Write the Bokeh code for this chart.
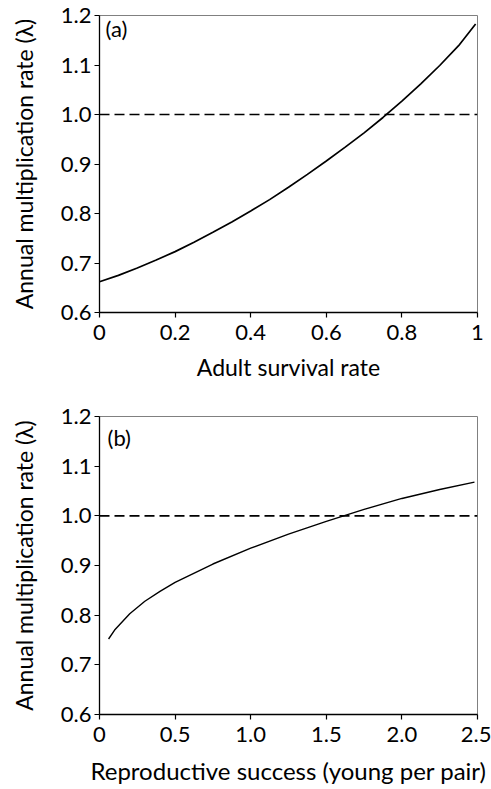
from bokeh.plotting import figure
from bokeh.layouts import column
from bokeh.models import Span, Label, FixedTicker
from bokeh.embed import file_html
from bokeh.resources import INLINE

# Panel (a): adult survival rate vs lambda
survival = [0.0, 0.05, 0.1, 0.15, 0.2, 0.25, 0.3, 0.35, 0.4, 0.45, 0.5,
            0.55, 0.6, 0.65, 0.7, 0.75, 0.8, 0.85, 0.9, 0.95, 0.995]
lambda_a = [0.662, 0.675, 0.690, 0.706, 0.723, 0.742, 0.762, 0.783, 0.805, 0.828, 0.853,
            0.879, 0.906, 0.934, 0.963, 0.994, 1.027, 1.062, 1.099, 1.139, 1.183]

# Panel (b): reproductive success vs lambda
success = [0.06, 0.1, 0.2, 0.3, 0.4, 0.5, 0.75, 1.0, 1.25, 1.5, 1.75, 2.0, 2.25, 2.48]
lambda_b = [0.752, 0.770, 0.803, 0.828, 0.848, 0.866, 0.903, 0.935, 0.963, 0.989, 1.013,
            1.035, 1.053, 1.068]

threshold = 1.0
y_ticks = [0.6, 0.7, 0.8, 0.9, 1.0, 1.1, 1.2]
y_tick_labels = {0.6: "0.6", 0.7: "0.7", 0.8: "0.8", 0.9: "0.9", 1.0: "1.0", 1.1: "1.1", 1.2: "1.2"}
xa_ticks = [0, 0.2, 0.4, 0.6, 0.8, 1.0]
xa_tick_labels = {0: "0", 0.2: "0.2", 0.4: "0.4", 0.6: "0.6", 0.8: "0.8", 1.0: "1"}
xb_ticks = [0, 0.5, 1.0, 1.5, 2.0, 2.5]
xb_tick_labels = {0: "0", 0.5: "0.5", 1.0: "1.0", 1.5: "1.5", 2.0: "2.0", 2.5: "2.5"}

FONT = "Lato"
YTITLE = "Annual multiplication rate (λ)"


def style(p, xticks, xlabels, xtitle):
    p.grid.visible = False
    p.outline_line_color = "#808080"
    p.outline_line_width = 1
    for ax in (p.xaxis[0], p.yaxis[0]):
        ax.axis_line_color = "black"
        ax.axis_line_width = 1.3
        ax.major_tick_line_color = "black"
        ax.major_tick_line_width = 1.2
        ax.major_tick_out = 5
        ax.major_tick_in = 0
        ax.minor_tick_line_color = None
        ax.major_label_text_font = FONT
        ax.major_label_text_font_size = "22px"
        ax.major_label_text_color = "black"
        ax.axis_label_text_font = FONT
        ax.axis_label_text_font_size = "23px"
        ax.axis_label_text_font_style = "normal"
        ax.axis_label_text_color = "black"
    p.yaxis[0].ticker = FixedTicker(ticks=y_ticks)
    p.yaxis[0].major_label_overrides = y_tick_labels
    p.yaxis[0].axis_label = YTITLE
    p.yaxis[0].axis_label_text_font_size = "23px"
    p.yaxis[0].major_label_standoff = 3
    p.yaxis[0].axis_label_standoff = 20
    p.xaxis[0].ticker = FixedTicker(ticks=xticks)
    p.xaxis[0].major_label_overrides = xlabels
    p.xaxis[0].axis_label = xtitle
    p.xaxis[0].major_label_standoff = 7
    p.xaxis[0].axis_label_standoff = 10


p1 = figure(width=491, height=398, output_backend="svg", toolbar_location=None,
            x_range=(0, 1), y_range=(0.6, 1.2),
            min_border_left=99, min_border_right=14, min_border_top=15, min_border_bottom=86)
style(p1, xa_ticks, xa_tick_labels, "Adult survival rate")
p1.line(survival, lambda_a, line_color="black", line_width=1.7)
p1.add_layout(Span(location=threshold, dimension="width", line_color="black",
                   line_width=1.6, line_dash="10 5"))
p1.add_layout(Label(x=0.016, y=1.2, text="(a)", text_font=FONT, text_font_size="22px",
                    text_baseline="top", y_offset=1, text_color="black"))

p2 = figure(width=491, height=389, output_backend="svg", toolbar_location=None,
            x_range=(0, 2.5), y_range=(0.6, 1.2),
            min_border_left=97, min_border_right=14, min_border_top=18, min_border_bottom=73)
style(p2, xb_ticks, xb_tick_labels, "Reproductive success (young per pair)")
p2.xaxis[0].axis_label_standoff = 11
p2.xaxis[0].axis_label_text_font_size = "24px"
p2.line(success, lambda_b, line_color="black", line_width=1.4)
p2.add_layout(Span(location=threshold, dimension="width", line_color="black",
                   line_width=1.6, line_dash="10 5"))
p2.add_layout(Label(x=0.053, y=1.2, text="(b)", text_font=FONT, text_font_size="22px",
                    text_baseline="top", y_offset=-7, text_color="black"))

layout = column(p1, p2)
open("out.html", "w").write(file_html(layout, INLINE))
